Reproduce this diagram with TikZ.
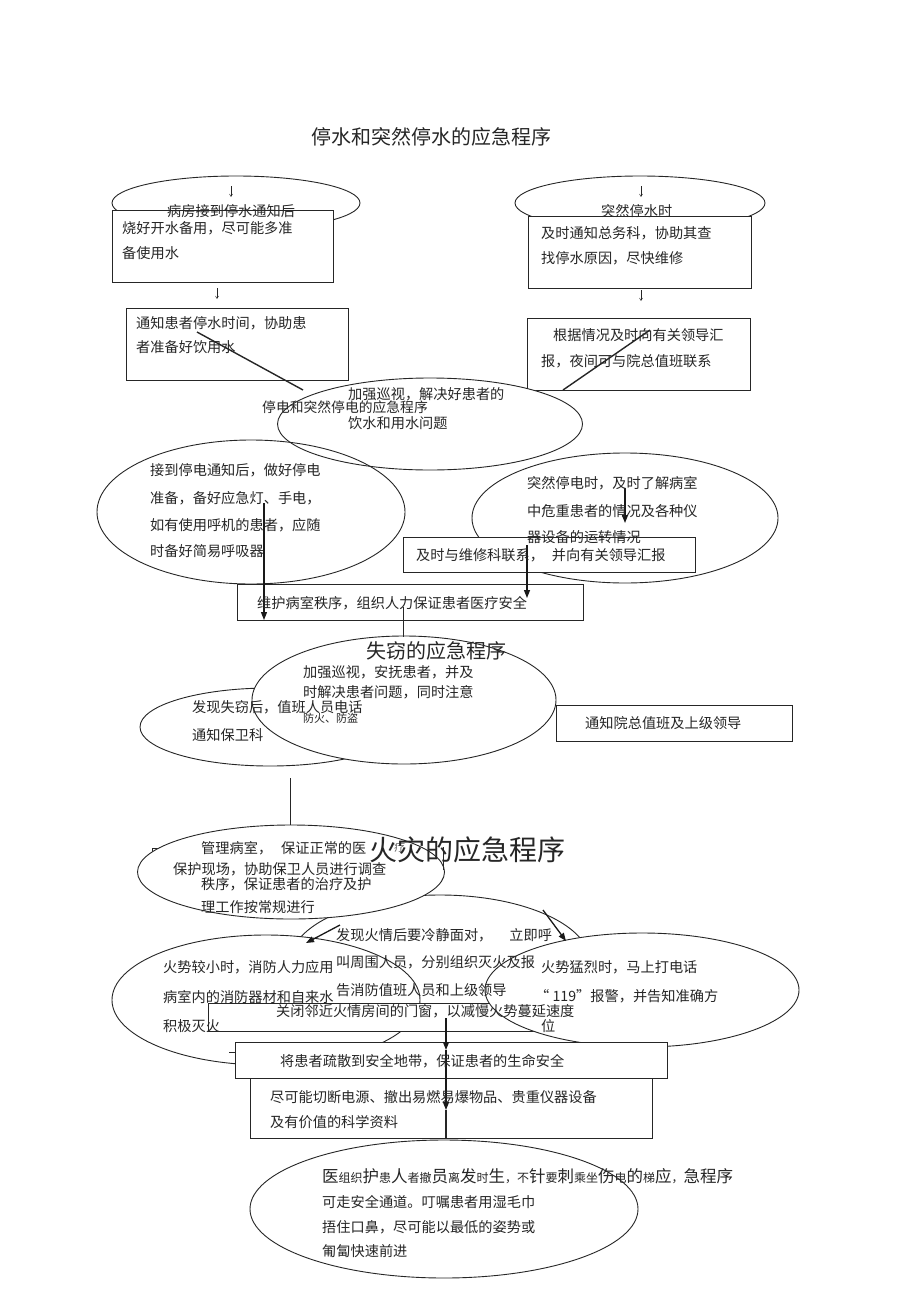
\documentclass[tikz,border=0pt]{standalone}
\usepackage{fontspec}
\setmainfont{Noto Sans CJK SC}
\usetikzlibrary{shapes.geometric,arrows.meta}
\begin{document}
\begin{tikzpicture}[x=1pt,y=-1pt,
  shp/.style={draw=black!85, line width=0.9pt, inner sep=0pt, outer sep=0pt},
  ell/.style={shp, ellipse},
  ellw/.style={shp, ellipse, fill=white},
  box/.style={shp, rectangle, fill=white},
  txt/.style={anchor=west, inner sep=0pt, text=black!85, font=\fontsize{14.2pt}{16pt}\selectfont},
  ttl/.style={anchor=west, inner sep=0pt, text=black!85, font=\fontsize{20pt}{22pt}\selectfont},
  conn/.style={draw=black!85, line width=1.4pt},
  thin/.style={draw=black!85, line width=0.9pt},
  thick/.style={draw=black!90, line width=1.3pt, -{Triangle[length=8pt,width=6pt]}},
  tiny/.style={draw=black!85, line width=0.5pt, -{Straight Barb[length=2.5pt,width=3pt]}}
]
\useasboundingbox (0,0) rectangle (920,1303);
\fill[white] (0,0) rectangle (920,1303);

% ---------- water ----------
\node[ell, minimum width=248pt, minimum height=54pt] (eA) at (236,203) {};
\node[ell, minimum width=250pt, minimum height=54pt] (eC) at (640,203) {};
\node[box, minimum width=221pt, minimum height=72pt] (bA) at (222.5,246) {};
\node[box, minimum width=223pt, minimum height=72pt] (bD) at (639.5,252) {};
\node[box, minimum width=222pt, minimum height=72pt] (bB) at (237,344) {};
\node[box, minimum width=223pt, minimum height=72pt] (bE) at (638.5,354) {};

\coordinate (pA1) at (231,186); \coordinate (pA2) at (231,197);
\coordinate (pA3) at (217,288); \coordinate (pA4) at (217,299);
\coordinate (pC1) at (641,186); \coordinate (pC2) at (641,197);
\coordinate (pC3) at (641,290); \coordinate (pC4) at (641,301);
\draw[tiny] (pA1) -- (pA2);
\draw[tiny] (pA3) -- (pA4);
\draw[tiny] (pC1) -- (pC2);
\draw[tiny] (pC3) -- (pC4);

\coordinate (l1s) at (197,332); \coordinate (l1e) at (303,390);
\coordinate (l2s) at (650,330); \coordinate (l2e) at (563,390);
\draw[conn] (l1s) -- (l1e);
\draw[conn] (l2s) -- (l2e);
\node[ellw, minimum width=305pt, minimum height=92pt] (eF) at (430,424) {};

% ---------- power ----------
\node[ell, minimum width=308pt, minimum height=144pt] (eG) at (251,512) {};
\node[ell, minimum width=306pt, minimum height=130pt] (eH) at (625,518) {};
\node[box, minimum width=292pt, minimum height=35pt] (bI) at (549,554.5) {};
\node[box, minimum width=346pt, minimum height=36pt] (bJ) at (410,602) {};
\coordinate (a1s) at (264,503); \coordinate (a1e) at (264,620);
\coordinate (a2s) at (625,488); \coordinate (a2e) at (625,523);
\coordinate (a3s) at (527,545); \coordinate (a3e) at (527,598);
\draw[thick] (a1s) -- (a1e);
\draw[thick] (a2s) -- (a2e);
\draw[thick] (a3s) -- (a3e);

% ---------- theft ----------
\node[ell, minimum width=260pt, minimum height=78pt] (eL) at (270,727) {};
\node[ellw, minimum width=304pt, minimum height=128pt] (eK) at (404,700) {};
\node[box, minimum width=236pt, minimum height=36pt] (bM) at (674,723) {};
\coordinate (l3s) at (403,607); \coordinate (l3e) at (403,637);
\draw[thin] (l3s) -- (l3e);
\coordinate (l4s) at (290,778); \coordinate (l4e) at (290,826);
\draw[thin] (l4s) -- (l4e);

% ---------- fire ----------
\node[ellw, minimum width=300pt, minimum height=134pt] (eO) at (440,962) {};
\coordinate (s1) at (152,860); \coordinate (s2) at (152,848); \coordinate (s3) at (161,848);
\draw[thin] (s1) -- (s2) -- (s3);
\node[ellw, minimum width=307pt, minimum height=94pt] (eN) at (291,872) {};
\coordinate (l5s) at (443,847); \coordinate (l5e) at (443,870);
\draw[thin] (l5s) -- (l5e);
\node[ellw, minimum width=308pt, minimum height=130pt] (eQ) at (266,1000) {};
\node[box, minimum width=392pt, minimum height=28pt] (bP) at (404,1017) {};
\node[ellw, minimum width=314pt, minimum height=114pt] (eR) at (642,990) {};
\coordinate (s4) at (229,1052); \coordinate (s5) at (235,1052);
\draw[thin] (s4) -- (s5);
\node[box, minimum width=432pt, minimum height=36pt] (bS) at (451,1060) {};
\node[box, minimum width=402pt, minimum height=60pt] (bT) at (451,1108) {};
\node[ell, minimum width=388pt, minimum height=138pt] (eU) at (444,1209) {};

\coordinate (a4s) at (446,1018); \coordinate (a4e) at (446,1050);
\coordinate (a5e) at (446,1110); \coordinate (a5f) at (446,1138);
\draw[thick] (a4s) -- (a4e);
\draw[thick] (a4e) -- (a5e);
\draw[thin, line width=1.1pt] (a5e) -- (a5f);
\coordinate (a6s) at (340,925); \coordinate (a6e) at (306,943);
\coordinate (a7s) at (543,910); \coordinate (a7e) at (566,941);
\draw[thick] (a6s) -- (a6e);
\draw[thick] (a7s) -- (a7e);

% ---------- texts ----------
\node[ttl] (t1) at (311,137) {停水和突然停水的应急程序};
\node[txt] (tA1) at (167,211) {病房接到停水通知后};
\node[txt] (tA2) at (122,228) {烧好开水备用，尽可能多准};
\node[txt] (tA3) at (122,253) {备使用水};
\node[txt] (tB1) at (136,323) {通知患者停水时间，协助患};
\node[txt] (tB2) at (136,347) {者准备好饮用水};
\node[txt] (tC1) at (601,211) {突然停水时};
\node[txt] (tD1) at (541,233) {及时通知总务科，协助其查};
\node[txt] (tD2) at (541,258) {找停水原因，尽快维修};
\node[txt] (tE1) at (553,335) {根据情况及时向有关领导汇};
\node[txt] (tE2) at (541,361) {报，夜间可与院总值班联系};
\node[txt] (tF1) at (348,394) {加强巡视，解决好患者的};
\node[txt] (tF2) at (348,423) {饮水和用水问题};
\node[txt, font=\fontsize{13.8pt}{15pt}\selectfont] (t2) at (262,407) {停电和突然停电的应急程序};

\node[txt] (tG1) at (150,470) {接到停电通知后，做好停电};
\node[txt] (tG2) at (150,498) {准备，备好应急灯、手电，};
\node[txt] (tG3) at (150,525) {如有使用呼机的患者，应随};
\node[txt] (tG4) at (150,551) {时备好简易呼吸器};
\node[txt] (tH1) at (527,483) {突然停电时，及时了解病室};
\node[txt] (tH2) at (527,511) {中危重患者的情况及各种仪};
\node[txt] (tH3) at (527,537) {器设备的运转情况};
\node[txt] (tI) at (416,555) {及时与维修科联系，\hspace{8pt}并向有关领导汇报};
\node[txt] (tJ) at (257,603) {维护病室秩序，组织人力保证患者医疗安全};

\node[ttl] (t3) at (366,651) {失窃的应急程序};
\node[txt] (tK1) at (303,672) {加强巡视，安抚患者，并及};
\node[txt] (tK2) at (303,692) {时解决患者问题，同时注意};
\node[txt, font=\fontsize{11pt}{12pt}\selectfont] (tK3) at (303,718) {防火、防盗};
\node[txt] (tL1) at (192,707) {发现失窃后，值班人员电话};
\node[txt] (tL2) at (192,735) {通知保卫科};
\node[txt] (tM) at (585,723) {通知院总值班及上级领导};

\node[txt] (tN1) at (201,848) {管理病室，\hspace{9pt}保证正常的医};
\node[txt, text=black!60, font=\fontsize{11pt}{12pt}\selectfont] (tN1b) at (394,847) {疗};
\node[txt] (tX) at (173,869) {保护现场，协助保卫人员进行调查};
\node[txt] (tN2) at (201,884) {秩序，保证患者的治疗及护};
\node[txt] (tN3) at (201,907) {理工作按常规进行};
\node[ttl, font=\fontsize{28pt}{30pt}\selectfont] (t4) at (369,850) {火灾的应急程序};

\node[txt] (tO1) at (336,935) {发现火情后要冷静面对，\hspace{17pt}立即呼};
\node[txt] (tO2) at (336,962) {叫周围人员，分别组织灭火及报};
\node[txt] (tO3) at (336,990) {告消防值班人员和上级领导};
\node[txt] (tQ1) at (163,967) {火势较小时，消防人力应用};
\node[txt] (tQ2) at (163,997) {病室内的消防器材和自来水};
\node[txt] (tQ3) at (163,1026) {积极灭火};
\node[txt] (tR1) at (541,967) {火势猛烈时，马上打电话};
\node[txt] (tR2) at (535,996) {“ 119”报警，并告知准确方};
\node[txt] (tR3) at (541,1026) {位};
\node[txt] (tP) at (276,1011) {关闭邻近火情房间的门窗，以减慢火势蔓延速度};
\node[txt] (tS) at (280,1061) {将患者疏散到安全地带，保证患者的生命安全};
\node[txt] (tT1) at (270,1097) {尽可能切断电源、撤出易燃易爆物品、贵重仪器设备};
\node[txt] (tT2) at (270,1122) {及有价值的科学资料};

\newcommand{\bg}[1]{{\fontsize{16.5pt}{18pt}\selectfont #1}}
\newcommand{\sm}[1]{{\fontsize{12pt}{13pt}\selectfont #1}}
\node[txt, anchor=base west] (tU1) at (322,1182) {\bg{医}\sm{组织}\bg{护}\sm{患}\bg{人}\sm{者撤}\bg{员}\sm{离}\bg{发}\sm{时}\bg{生}\sm{，不}\bg{针}\sm{要}\bg{刺}\sm{乘坐}\bg{伤}\sm{电}\bg{的}\sm{梯}\bg{应}\sm{，}\bg{急程序}};
\node[txt] (tU2) at (322,1202) {可走安全通道。叮嘱患者用湿毛巾};
\node[txt] (tU3) at (322,1227) {捂住口鼻，尽可能以最低的姿势或};
\node[txt] (tU4) at (322,1251) {匍匐快速前进};
\end{tikzpicture}
\end{document}
